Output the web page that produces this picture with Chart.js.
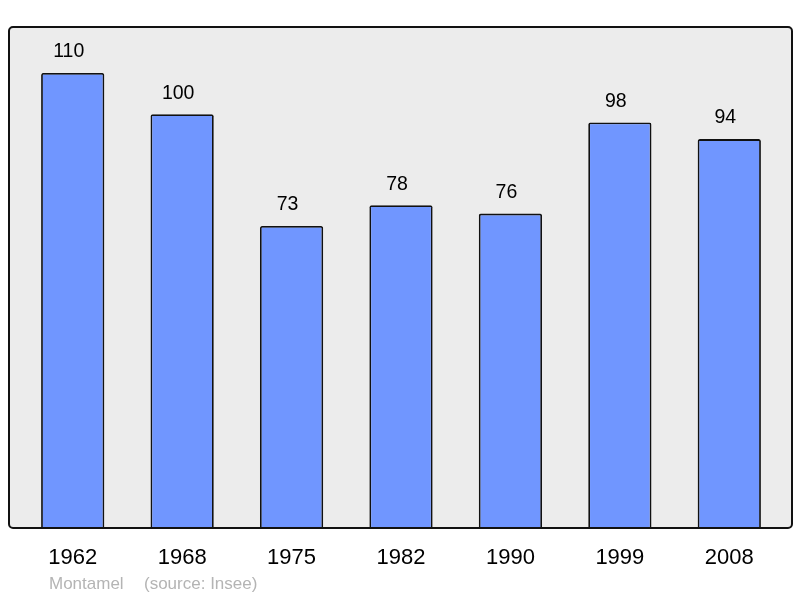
<!DOCTYPE html>
<html>
<head>
<meta charset="utf-8">
<script src="https://cdn.jsdelivr.net/npm/chart.js@4"></script>
<style>
  body { margin: 0; background: #fff; }
  canvas { display: block; }
</style>
</head>
<body>
<canvas id="popChart" width="800" height="598"></canvas>
<script>
// data
var years = ["1962", "1968", "1975", "1982", "1990", "1999", "2008"];
var population = [110, 100, 73, 78, 76, 98, 94];
var townName = "Montamel";
var sourceText = "(source: Insee)";

// gray framed background behind the bars
var framePlugin = {
  id: "frame",
  beforeDatasetsDraw: function (chart) {
    var ctx = chart.ctx;
    var a = chart.chartArea;
    ctx.save();
    ctx.fillStyle = "#ececec";
    ctx.beginPath();
    ctx.roundRect(a.left - 9, a.top, a.right - a.left + 17, a.bottom - a.top, 4);
    ctx.fill();
    ctx.restore();
  },
  afterDatasetsDraw: function (chart) {
    var ctx = chart.ctx;
    var a = chart.chartArea;
    ctx.save();
    ctx.strokeStyle = "#111";
    ctx.lineWidth = 2;
    ctx.beginPath();
    ctx.roundRect(a.left - 9, a.top, a.right - a.left + 17, a.bottom - a.top, 4);
    ctx.stroke();

    // value labels above bars
    var meta = chart.getDatasetMeta(0);
    ctx.fillStyle = "#000";
    ctx.font = "19.5px 'Liberation Sans', Arial, sans-serif";
    ctx.textAlign = "center";
    ctx.textBaseline = "middle";
    meta.data.forEach(function (bar, i) {
      ctx.fillText(String(population[i]), bar.x - 4, bar.y - 21);
    });

    // footer
    ctx.fillStyle = "#b4b4b4";
    ctx.font = "17px 'Liberation Sans', Arial, sans-serif";
    ctx.textAlign = "left";
    ctx.fillText(townName, 49, 584);
    ctx.fillText(sourceText, 144, 584);
    ctx.restore();
  },
};

var ctx = document.getElementById("popChart");
var myChart = new Chart(ctx, {
  type: "bar",
  data: {
    labels: years,
    datasets: [
      {
        label: "Population",
        data: population,
        backgroundColor: "#7096ff",
        borderColor: "#111",
        borderWidth: 1.8,
        borderRadius: 2,
        borderSkipped: "bottom",
        barPercentage: 0.578,
        categoryPercentage: 1,
      },
    ],
  },
  options: {
    responsive: false,
    animation: false,
    layout: {
      padding: { left: 18, right: 16, top: 27, bottom: 0 },
    },
    scales: {
      x: {
        grid: { display: false, drawTicks: false },
        border: { display: false },
        ticks: {
          color: "#000",
          padding: 17,
          font: { family: "'Liberation Sans', Arial, sans-serif", size: 22 },
        },
        afterFit: function (scale) {
          scale.height = 70;
        },
      },
      y: {
        display: false,
        min: 0,
        max: 121.1,
      },
    },
    plugins: {
      legend: { display: false },
      tooltip: { enabled: false },
    },
  },
  plugins: [framePlugin],
});
</script>
</body>
</html>
